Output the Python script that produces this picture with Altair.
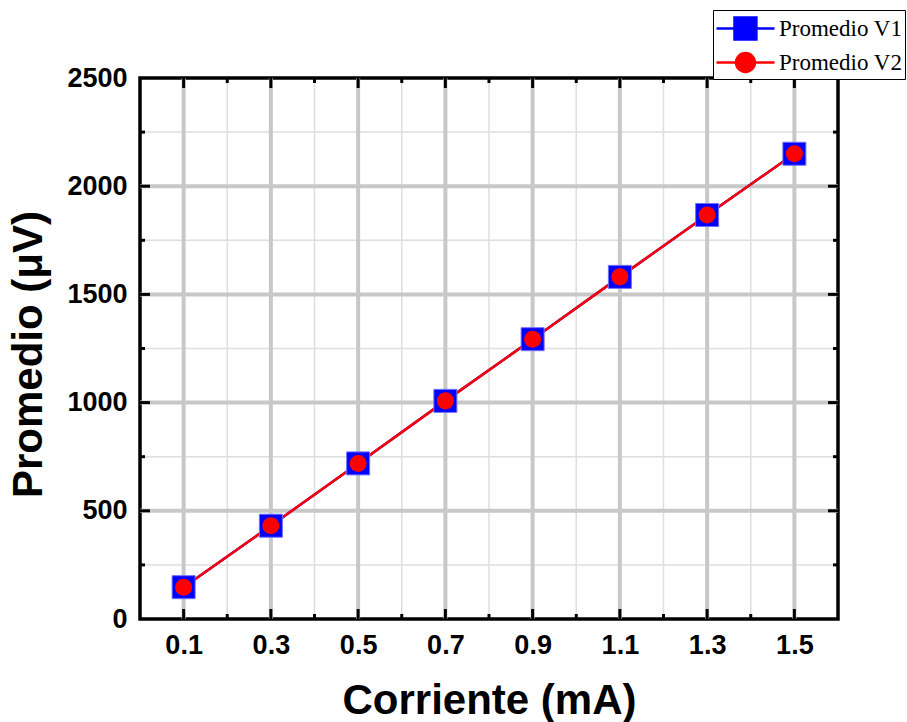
import altair as alt
import pandas as pd

# ---- data ----
corriente = [0.1, 0.3, 0.5, 0.7, 0.9, 1.1, 1.3, 1.5]
promedio_v1 = [147, 431, 719, 1008, 1293, 1581, 1867, 2150]
promedio_v2 = [147, 431, 719, 1008, 1293, 1581, 1867, 2150]
series_names = ["Promedio V1", "Promedio V2"]

x_major = [0.1, 0.3, 0.5, 0.7, 0.9, 1.1, 1.3, 1.5]
x_minor = [0.2, 0.4, 0.6, 0.8, 1.0, 1.2, 1.4]
y_labels = [0, 500, 1000, 1500, 2000, 2500]
y_major = [500, 1000, 1500, 2000]
y_minor = [250, 750, 1250, 1750, 2250]

W, H = 698, 541
FONT = "Liberation Sans"

df = pd.DataFrame({
    "x": corriente * 2,
    "y": promedio_v1 + promedio_v2,
    "series": [series_names[0]] * len(corriente) + [series_names[1]] * len(corriente),
})
df_v1 = df[df.series == series_names[0]]
df_v2 = df[df.series == series_names[1]]
dxmaj = pd.DataFrame({"x": x_major})
dxmin = pd.DataFrame({"x": x_minor})
dymaj = pd.DataFrame({"y": y_major})
dymin = pd.DataFrame({"y": y_minor})

xscale = alt.Scale(domain=[0, 1.6], nice=False, zero=False)
yscale = alt.Scale(domain=[0, 2500], nice=False)

xaxis = alt.Axis(values=x_major, format=".1f", tickSize=0, domain=False, grid=False,
                 labelFont=FONT, labelFontSize=27, labelFontWeight="bold", labelColor="black",
                 labelPadding=13, labelFlush=False,
                 titleFont=FONT, titleFontSize=42, titleFontWeight="bold", titleColor="black",
                 titleX=349, titleY=94, titleBaseline="alphabetic", titleAlign="center")
yaxis = alt.Axis(values=y_labels, format="d", tickSize=0, domain=False, grid=False,
                 labelFont=FONT, labelFontSize=27, labelFontWeight="bold", labelColor="black",
                 labelPadding=13, labelFlush=False,
                 titleFont=FONT, titleFontSize=42, titleFontWeight="bold", titleColor="black",
                 titleX=-99, titleY=276, titleBaseline="alphabetic", titleAlign="center")

XT = "Corriente (mA)"
YT = "Promedio (μV)"

def X(field="x"):
    return alt.X(f"{field}:Q", scale=xscale, axis=xaxis, title=XT)

def Y(field="y"):
    return alt.Y(f"{field}:Q", scale=yscale, axis=yaxis, title=YT)

minor_x = alt.Chart(dxmin).mark_rule(color="#dedede", strokeWidth=1.5).encode(x=X())
minor_y = alt.Chart(dymin).mark_rule(color="#dedede", strokeWidth=1.5).encode(y=Y())
major_x = alt.Chart(dxmaj).mark_rule(color="#c8c8c8", strokeWidth=4).encode(x=X())
major_y = alt.Chart(dymaj).mark_rule(color="#c8c8c8", strokeWidth=4).encode(y=Y())

tick_layers = []
for d, ln in ((dxmaj, 10), (dxmin, 5)):
    tick_layers.append(alt.Chart(d).mark_rule(color="black", strokeWidth=3).encode(
        x=X(), y=alt.value(H), y2=alt.value(H - ln)))
    tick_layers.append(alt.Chart(d).mark_rule(color="black", strokeWidth=3).encode(
        x=X(), y=alt.value(0), y2=alt.value(ln)))
for d, ln in ((dymaj, 10), (dymin, 5)):
    tick_layers.append(alt.Chart(d).mark_rule(color="black", strokeWidth=3).encode(
        y=Y(), x=alt.value(0), x2=alt.value(ln)))
    tick_layers.append(alt.Chart(d).mark_rule(color="black", strokeWidth=3).encode(
        y=Y(), x=alt.value(W), x2=alt.value(W - ln)))

line_v1 = alt.Chart(df_v1).mark_line(color="#0000ff", strokeWidth=2.5).encode(x=X(), y=Y())
line_v2 = alt.Chart(df_v2).mark_line(color="#ff0000", strokeWidth=2.5).encode(x=X(), y=Y())
pts_v1 = alt.Chart(df_v1).mark_point(shape="square", filled=True, size=529, color="#0000ff",
                                     opacity=1, stroke="#7070ff", strokeWidth=1).encode(x=X(), y=Y())
pts_v2 = alt.Chart(df_v2).mark_point(shape="circle", filled=True, size=290, color="#ff0000",
                                     opacity=1).encode(x=X(), y=Y())

# legend symbols: line with a marker in its middle (path extends right of the unit box)
sq_path = "M-1,0H2.87M0.2,-0.73H1.66V0.73H0.2Z"
ci_path = "M-1,0H2.87M1.56,0A0.63,0.63,0,1,1,0.3,0A0.63,0.63,0,1,1,1.56,0Z"
leg = alt.Legend(title=None, orient="none", legendX=573, legendY=-68,
                 symbolSize=900, symbolStrokeWidth=2.5, symbolOpacity=1,
                 labelFont="Liberation Serif", labelFontSize=23, labelColor="black",
                 labelOffset=31, rowPadding=1, padding=2,
                 strokeColor="black", fillColor="white")
colscale = alt.Scale(domain=series_names, range=["#0000ff", "#ff0000"])
legend_layer = alt.Chart(df).mark_point(filled=True, opacity=0, size=10).encode(
    x=X(), y=Y(),
    fill=alt.Fill("series:N", scale=colscale, legend=leg),
    stroke=alt.Stroke("series:N", scale=colscale, legend=leg),
    shape=alt.Shape("series:N", scale=alt.Scale(domain=series_names, range=[sq_path, ci_path]), legend=leg),
)

chart = alt.layer(
    minor_x, minor_y, major_x, major_y, *tick_layers,
    line_v1, line_v2, pts_v1, pts_v2, legend_layer
).properties(
    width=W, height=H,
    padding={"left": 140, "top": 78, "right": 69, "bottom": 103},
    autosize=alt.AutoSizeParams(type="none"),
    background="white",
).configure_view(stroke="black", strokeWidth=3.5)

chart.save("out.html", embed_options={"renderer": "svg", "actions": False})
